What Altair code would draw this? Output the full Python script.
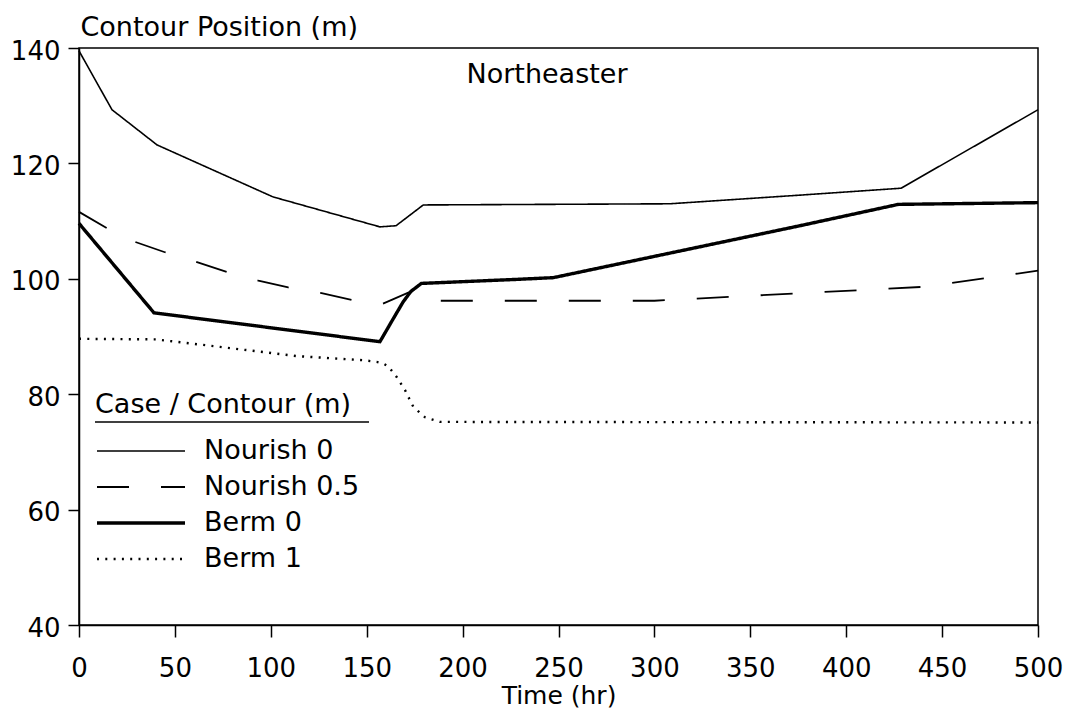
import altair as alt
import pandas as pd

# ---- data ----
cases = ["Nourish 0", "Nourish 0.5", "Berm 0", "Berm 1"]

nourish0_t = [0, 17.2, 40.7, 101.1, 156.9, 165.3, 179.5, 308, 375.9, 428.6, 500]
nourish0_y = [139.5, 129.3, 123.2, 114.2, 109.0, 109.2, 112.8, 113.0, 114.5, 115.7, 129.3]

nourish05_t = [0, 14.4, 29.2, 44.8, 60.5, 77.0, 93.5, 109.1, 126.5, 143.0, 157.8, 171.7, 175, 182, 300, 440, 500]
nourish05_y = [111.6, 108.8, 106.4, 104.6, 103.0, 101.2, 99.7, 98.5, 97.5, 96.3, 95.6, 97.6, 98.0, 96.2, 96.2, 98.6, 101.4]

berm0_t = [0, 39.1, 156.9, 163, 169, 173, 178.5, 228.2, 247.3, 375.9, 427.2, 500]
berm0_y = [109.6, 94.1, 89.1, 92.6, 96.0, 97.8, 99.2, 99.9, 100.2, 109.2, 112.9, 113.2]

berm1_t = [0, 40, 73.5, 113.5, 148.2, 155.2, 158.7, 161.3, 165.6, 170.0, 174.3, 180.4, 188.2, 500]
berm1_y = [89.6, 89.5, 88.2, 86.6, 85.9, 85.6, 85.3, 84.8, 83.0, 80.7, 77.8, 76.0, 75.2, 75.1]

x_ticks = [0, 50, 100, 150, 200, 250, 300, 350, 400, 450, 500]
y_ticks = [40, 60, 80, 100, 120, 140]

annot_text = ["Northeaster"]
annot_t = [244]
annot_y = [133.9]

series = [
    ("Nourish 0", nourish0_t, nourish0_y),
    ("Nourish 0.5", nourish05_t, nourish05_y),
    ("Berm 0", berm0_t, berm0_y),
    ("Berm 1", berm1_t, berm1_y),
]
rows = []
for name, ts, ys in series:
    for t, y in zip(ts, ys):
        rows.append({"case": name, "t": t, "y": y})
df = pd.DataFrame(rows)
annot = pd.DataFrame({"label": annot_text, "t": annot_t, "y": annot_y})

FONT = "DejaVu Sans"

legend = alt.Legend(
    orient="none", legendX=16, legendY=344,
    title="Case / Contour (m)", titleFont=FONT, titleFontSize=27, titleLimit=500,
    titleFontWeight="normal", titleColor="black", titlePadding=17,
    labelFont=FONT, labelFontSize=27, labelColor="black", labelOffset=17, labelLimit=400,
    symbolType="stroke", symbolSize=7744, clipHeight=30, rowPadding=6,
    padding=0, offset=0,
)

xscale = alt.Scale(domain=[0, 500], nice=False, zero=False)
yscale = alt.Scale(domain=[40, 140], nice=False, zero=False)

lines = alt.Chart(df).mark_line(color="black", strokeCap="butt").encode(
    x=alt.X("t:Q", scale=xscale,
            axis=alt.Axis(title="Time (hr)", values=x_ticks, tickSize=12,
                          labelPadding=39, labelBaseline="alphabetic",
                          labelFlush=False, labelOverlap=False,
                          titleFontSize=25,
                          titleBaseline="alphabetic", titleY=78)),
    y=alt.Y("y:Q", scale=yscale,
            axis=alt.Axis(title="Contour Position (m)", values=y_ticks, tickSize=11,
                          labelPadding=8, labelBaseline="alphabetic", labelOffset=11,
                          labelFlush=False, labelOverlap=False,
                          titleAngle=0, titleAlign="left", titleBaseline="alphabetic",
                          titleX=1, titleY=-13)),
    strokeDash=alt.StrokeDash("case:N", sort=cases,
                              scale=alt.Scale(domain=cases,
                                              range=[[1, 0], [32, 32], [1, 0], [2, 6.3]]),
                              legend=legend),
    strokeWidth=alt.StrokeWidth("case:N", sort=cases,
                                scale=alt.Scale(type="ordinal", domain=cases,
                                                range=[1.6, 1.8, 3.4, 2.4]),
                                legend=legend),
    detail="case:N",
)

text = alt.Chart(annot).mark_text(font=FONT, fontSize=27, color="black",
                                  align="center", baseline="alphabetic").encode(
    x=alt.X("t:Q", scale=xscale), y=alt.Y("y:Q", scale=yscale), text="label:N"
)

underline = alt.Chart(annot).mark_rule(color="black", strokeWidth=1.5).encode(
    x=alt.value(16), x2=alt.value(290), y=alt.value(374)
)

chart = alt.layer(lines, text, underline).properties(
    width=959, height=577,
    autosize=alt.AutoSizeParams(type="none"),
    padding={"left": 71, "top": 40, "right": 25, "bottom": 84},
    background="white",
).configure_view(
    stroke="black", strokeWidth=1.5
).configure_axis(
    grid=False, domainColor="black", domainWidth=1.5, tickColor="black", tickWidth=1.5,
    labelFont=FONT, labelFontSize=26, labelColor="black",
    titleFont=FONT, titleFontSize=27, titleFontWeight="normal", titleColor="black",
)

chart.save("out.html", embed_options={"renderer": "svg", "actions": False})
